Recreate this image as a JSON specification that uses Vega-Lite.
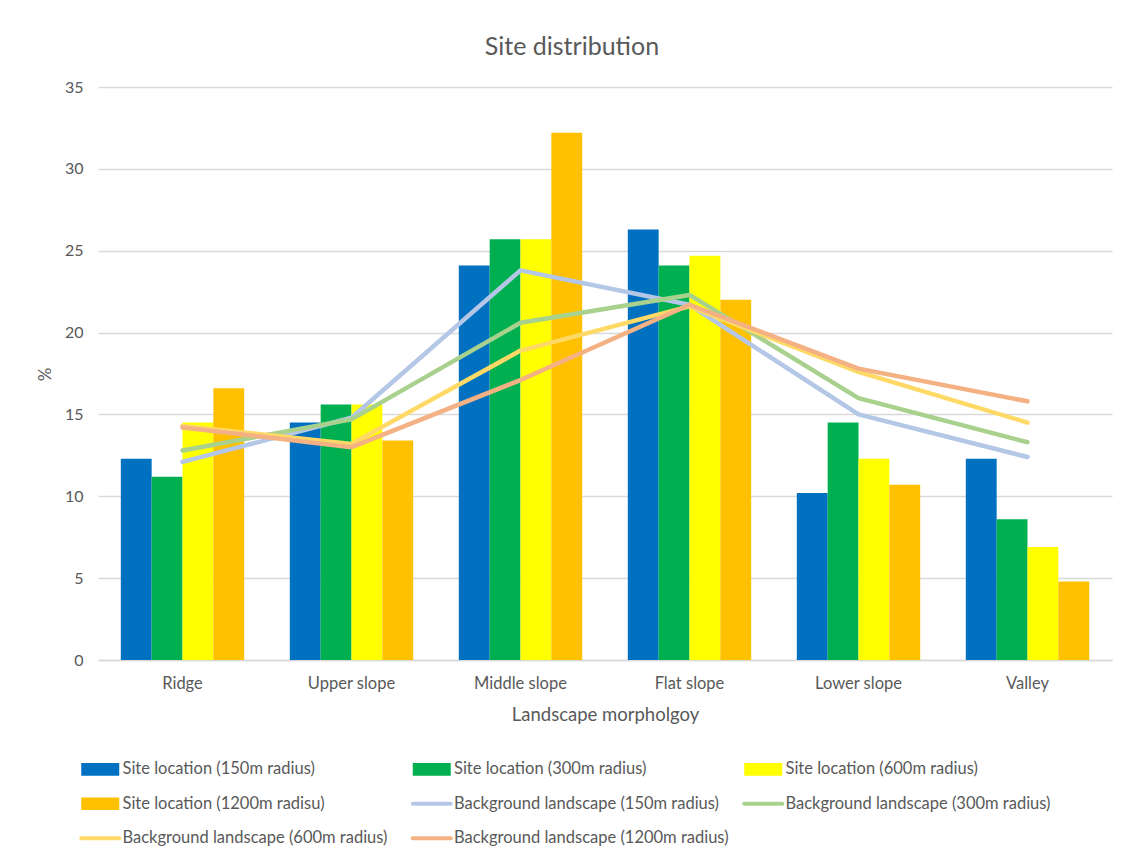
{
  "$schema": "https://vega.github.io/schema/vega-lite/v6.json",
  "autosize": "none",
  "width": 1014,
  "height": 573,
  "padding": {"left": 98, "top": 87, "right": 12, "bottom": 197},
  "background": "white",
  "title": {
    "text": "Site distribution",
    "fontSize": 25,
    "fontWeight": "normal",
    "color": "#595959",
    "anchor": "middle",
    "dx": -33,
    "offset": 19
  },
  "datasets": {
    "sites": [
      {"landform": "Ridge", "series": "Site location (150m radius)", "value": 12.3},
      {"landform": "Ridge", "series": "Site location (300m radius)", "value": 11.2},
      {"landform": "Ridge", "series": "Site location (600m radius)", "value": 14.5},
      {"landform": "Ridge", "series": "Site location (1200m radisu)", "value": 16.6},
      {"landform": "Upper slope", "series": "Site location (150m radius)", "value": 14.5},
      {"landform": "Upper slope", "series": "Site location (300m radius)", "value": 15.6},
      {"landform": "Upper slope", "series": "Site location (600m radius)", "value": 15.6},
      {"landform": "Upper slope", "series": "Site location (1200m radisu)", "value": 13.4},
      {"landform": "Middle slope", "series": "Site location (150m radius)", "value": 24.1},
      {"landform": "Middle slope", "series": "Site location (300m radius)", "value": 25.7},
      {"landform": "Middle slope", "series": "Site location (600m radius)", "value": 25.7},
      {"landform": "Middle slope", "series": "Site location (1200m radisu)", "value": 32.2},
      {"landform": "Flat slope", "series": "Site location (150m radius)", "value": 26.3},
      {"landform": "Flat slope", "series": "Site location (300m radius)", "value": 24.1},
      {"landform": "Flat slope", "series": "Site location (600m radius)", "value": 24.7},
      {"landform": "Flat slope", "series": "Site location (1200m radisu)", "value": 22.0},
      {"landform": "Lower slope", "series": "Site location (150m radius)", "value": 10.2},
      {"landform": "Lower slope", "series": "Site location (300m radius)", "value": 14.5},
      {"landform": "Lower slope", "series": "Site location (600m radius)", "value": 12.3},
      {"landform": "Lower slope", "series": "Site location (1200m radisu)", "value": 10.7},
      {"landform": "Valley", "series": "Site location (150m radius)", "value": 12.3},
      {"landform": "Valley", "series": "Site location (300m radius)", "value": 8.6},
      {"landform": "Valley", "series": "Site location (600m radius)", "value": 6.9},
      {"landform": "Valley", "series": "Site location (1200m radisu)", "value": 4.8}
    ],
    "background": [
      {"landform": "Ridge", "series": "Background landscape (150m radius)", "value": 12.1},
      {"landform": "Upper slope", "series": "Background landscape (150m radius)", "value": 14.8},
      {"landform": "Middle slope", "series": "Background landscape (150m radius)", "value": 23.8},
      {"landform": "Flat slope", "series": "Background landscape (150m radius)", "value": 21.7},
      {"landform": "Lower slope", "series": "Background landscape (150m radius)", "value": 15.0},
      {"landform": "Valley", "series": "Background landscape (150m radius)", "value": 12.4},
      {"landform": "Ridge", "series": "Background landscape (300m radius)", "value": 12.8},
      {"landform": "Upper slope", "series": "Background landscape (300m radius)", "value": 14.7},
      {"landform": "Middle slope", "series": "Background landscape (300m radius)", "value": 20.6},
      {"landform": "Flat slope", "series": "Background landscape (300m radius)", "value": 22.3},
      {"landform": "Lower slope", "series": "Background landscape (300m radius)", "value": 16.0},
      {"landform": "Valley", "series": "Background landscape (300m radius)", "value": 13.3},
      {"landform": "Ridge", "series": "Background landscape (600m radius)", "value": 14.3},
      {"landform": "Upper slope", "series": "Background landscape (600m radius)", "value": 13.2},
      {"landform": "Middle slope", "series": "Background landscape (600m radius)", "value": 18.9},
      {"landform": "Flat slope", "series": "Background landscape (600m radius)", "value": 21.6},
      {"landform": "Lower slope", "series": "Background landscape (600m radius)", "value": 17.6},
      {"landform": "Valley", "series": "Background landscape (600m radius)", "value": 14.5},
      {"landform": "Ridge", "series": "Background landscape (1200m radius)", "value": 14.2},
      {"landform": "Upper slope", "series": "Background landscape (1200m radius)", "value": 13.0},
      {"landform": "Middle slope", "series": "Background landscape (1200m radius)", "value": 17.1},
      {"landform": "Flat slope", "series": "Background landscape (1200m radius)", "value": 21.7},
      {"landform": "Lower slope", "series": "Background landscape (1200m radius)", "value": 17.8},
      {"landform": "Valley", "series": "Background landscape (1200m radius)", "value": 15.8}
    ]
  },
  "layer": [
    {
      "data": {"name": "sites"},
      "mark": {"type": "bar"},
      "encoding": {
        "x": {
          "field": "landform",
          "type": "nominal",
          "sort": ["Ridge", "Upper slope", "Middle slope", "Flat slope", "Lower slope", "Valley"],
          "scale": {"paddingInner": 0.27, "paddingOuter": 0.135},
          "title": "Landscape morpholgoy",
          "axis": {
            "labelAngle": 0,
            "labelPadding": 15,
            "labelFontSize": 16.5,
            "titleFontSize": 18.5,
            "titlePadding": 14,
            "domainColor": "#D9D9D9",
            "domainWidth": 1.3,
            "ticks": false,
            "grid": false
          }
        },
        "xOffset": {
          "field": "series",
          "type": "nominal",
          "sort": ["Site location (150m radius)", "Site location (300m radius)", "Site location (600m radius)", "Site location (1200m radisu)"],
          "scale": {"paddingInner": 0, "paddingOuter": 0}
        },
        "y": {
          "field": "value",
          "type": "quantitative",
          "scale": {"domain": [0, 35]},
          "title": "%",
          "axis": {
            "values": [0, 5, 10, 15, 20, 25, 30, 35],
            "domain": false,
            "ticks": false,
            "labelPadding": 15,
            "labelFontSize": 16,
            "titleFontSize": 17,
            "titleAngle": -90,
            "titleX": -53,
            "titleY": 287,
            "titleAlign": "center",
            "titleBaseline": "middle",
            "gridColor": "#D9D9D9",
            "gridWidth": 1.3
          }
        },
        "color": {
          "field": "series",
          "type": "nominal",
          "scale": {
            "domain": [
              "Site location (150m radius)",
              "Site location (300m radius)",
              "Site location (600m radius)",
              "Site location (1200m radisu)",
              "Background landscape (150m radius)",
              "Background landscape (300m radius)",
              "Background landscape (600m radius)",
              "Background landscape (1200m radius)"
            ],
            "range": ["#0070C0", "#00B050", "#FFFF00", "#FFC000", "#B4C7E7", "#A9D18E", "#FFD966", "#F4B183"]
          },
          "legend": {
            "title": null,
            "orient": "none",
            "legendX": -6,
            "legendY": 674,
            "direction": "horizontal",
            "columns": 3,
            "gridAlign": "all",
            "columnPadding": 6.5,
            "rowPadding": 17.5,
            "padding": 0,
            "labelFontSize": 16.5,
            "labelColor": "#595959",
            "labelOffset": 14,
            "labelLimit": 400,
            "symbolSize": 642,
            "symbolStrokeWidth": 0,
            "encode": {
              "symbols": {
                "update": {
                  "shape": {"signal": "test(/^Background/, datum.label) ? 'M-1.5,0H1.5' : 'M-1.5,-0.5H1.5V0.5H-1.5Z'"},
                  "fill": {"signal": "test(/^Background/, datum.label) ? 'transparent' : scale('color', datum.value)"},
                  "stroke": {"signal": "scale('color', datum.value)"},
                  "strokeWidth": {"signal": "test(/^Background/, datum.label) ? 4 : 0"},
                  "strokeCap": {"value": "round"},
                  "size": {"value": 642},
                  "opacity": {"value": 1},
                  "fillOpacity": {"value": 1},
                  "strokeOpacity": {"value": 1}
                }
              }
            }
          }
        }
      }
    },
    {
      "data": {"name": "background"},
      "mark": {"type": "line", "strokeWidth": 4.5, "strokeCap": "round", "strokeJoin": "round"},
      "encoding": {
        "x": {
          "field": "landform",
          "type": "nominal",
          "sort": ["Ridge", "Upper slope", "Middle slope", "Flat slope", "Lower slope", "Valley"]
        },
        "y": {"field": "value", "type": "quantitative"},
        "color": {"field": "series", "type": "nominal"}
      }
    }
  ],
  "config": {
    "font": "Lato",
    "view": {"stroke": null},
    "axis": {
      "labelColor": "#595959",
      "titleColor": "#595959",
      "titleFontWeight": "normal",
      "labelFont": "Lato",
      "titleFont": "Lato"
    },
    "legend": {"labelFont": "Lato"},
    "title": {"font": "Lato"}
  }
}
